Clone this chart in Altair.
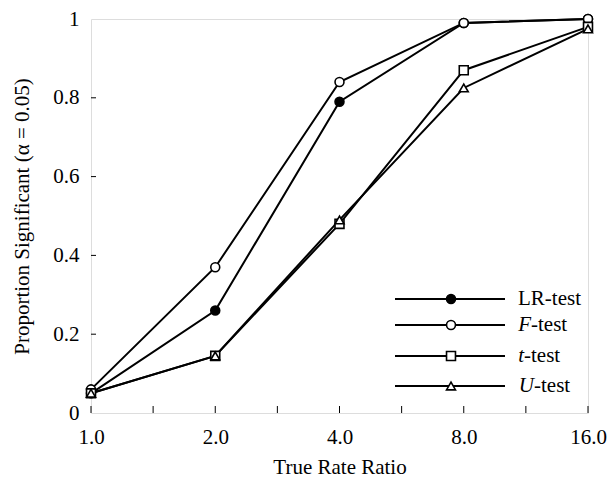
import altair as alt
import pandas as pd

# ---- data ----
ratios = [1, 2, 4, 8, 16]
lr_test = [0.05, 0.26, 0.79, 0.99, 1.0]
f_test = [0.06, 0.37, 0.84, 0.99, 1.0]
t_test = [0.05, 0.145, 0.48, 0.87, 0.98]
u_test = [0.05, 0.145, 0.49, 0.825, 0.975]
series = ["LR-test", "F-test", "t-test", "U-test"]
italic_part = ["", "F", "t", "U"]
normal_part = ["LR-test", "-test", "-test", "-test"]
x_tick_values = [1, 1.4142, 2, 2.8284, 4, 5.6569, 8, 11.3137, 16]
y_tick_values = [0.2, 0.4, 0.6, 0.8]

rows = []
for name, vals in zip(series, [lr_test, f_test, t_test, u_test]):
    for r, v in zip(ratios, vals):
        rows.append({"series": name, "ratio": r, "value": v})
df = pd.DataFrame(rows)

FONT = "'Liberation Serif', 'Times New Roman', 'DejaVu Serif', serif"
FS = 21
W, H = 497, 394

xscale = alt.Scale(type="log", base=2, domain=[1, 16], nice=False)
yscale = alt.Scale(domain=[0, 1], nice=False)

shape_scale = alt.Scale(domain=series, range=["circle", "circle", "square", "triangle-up"])
fill_scale = alt.Scale(domain=series, range=["black", "white", "white", "white"])

x_axis = alt.Axis(
    values=ratios, format=".1f", ticks=False, domain=False, grid=False,
    labelFlush=False, labelOverlap=False,
    labelFont=FONT, labelFontSize=FS, labelColor="black", labelPadding=13,
    title="True Rate Ratio", titleFont=FONT, titleFontSize=FS, titleFontWeight="normal",
    titleColor="black", titlePadding=9,
)
y_axis = alt.Axis(
    values=[0, 0.2, 0.4, 0.6, 0.8, 1], format="~g", ticks=False, domain=False, grid=False,
    labelFlush=False, labelOverlap=False,
    labelFont=FONT, labelFontSize=FS, labelColor="black", labelPadding=12,
    title="Proportion Significant (α = 0.05)", titleFont=FONT, titleFontSize=FS,
    titleFontWeight="normal", titleColor="black", titlePadding=20,
)

base = alt.Chart(df)

lines = base.mark_line(color="black", strokeWidth=2).encode(
    x=alt.X("ratio:Q", scale=xscale, axis=x_axis),
    y=alt.Y("value:Q", scale=yscale, axis=y_axis),
    detail="series:N",
)

points = base.mark_point(stroke="black", strokeWidth=1.6, opacity=1, fillOpacity=1, size=80).encode(
    x=alt.X("ratio:Q", scale=xscale),
    y=alt.Y("value:Q", scale=yscale),
    shape=alt.Shape("series:N", scale=shape_scale, legend=None),
    fill=alt.Fill("series:N", scale=fill_scale, legend=None),
)

# inward ticks
xt = alt.Chart(pd.DataFrame({"v": x_tick_values})).mark_rule(color="black", strokeWidth=1).encode(
    x=alt.X("v:Q", scale=xscale),
    y=alt.value(H),
    y2=alt.value(H - 7),
)
yt = alt.Chart(pd.DataFrame({"v": y_tick_values})).mark_rule(color="black", strokeWidth=1).encode(
    y=alt.Y("v:Q", scale=yscale),
    x=alt.value(0),
    x2=alt.value(5),
)

# legend (manual)
leg_rows_y = [280, 306, 337, 367]
leg_df = pd.DataFrame({
    "series": series,
    "italic": italic_part,
    "normal": normal_part,
    "ly": leg_rows_y,
    "split": [427, 440, 433, 443],
})
leg_base = alt.Chart(leg_df)
leg_lines = leg_base.mark_rule(color="black", strokeWidth=2).encode(
    x=alt.value(304), x2=alt.value(414), y=alt.Y("ly:Q", scale=None),
)
leg_pts = leg_base.mark_point(stroke="black", strokeWidth=1.6, opacity=1, fillOpacity=1, size=80).encode(
    x=alt.value(360), y=alt.Y("ly:Q", scale=None),
    shape=alt.Shape("series:N", scale=shape_scale, legend=None),
    fill=alt.Fill("series:N", scale=fill_scale, legend=None),
)
leg_ital = leg_base.mark_text(font=FONT, fontSize=FS, fontStyle="italic", align="right",
                              baseline="middle", color="black").encode(
    x=alt.X("split:Q", scale=None), y=alt.Y("ly:Q", scale=None), text="italic:N",
)
leg_norm = leg_base.mark_text(font=FONT, fontSize=FS, align="left",
                              baseline="middle", color="black").encode(
    x=alt.X("split:Q", scale=None), y=alt.Y("ly:Q", scale=None), text="normal:N",
)

chart = alt.layer(lines, points, xt, yt, leg_lines, leg_pts, leg_ital, leg_norm).properties(
    width=W, height=H,
    autosize=alt.AutoSizeParams(type="none"),
    padding={"left": 83, "top": 11, "right": 20, "bottom": 67},
).configure_view(stroke="black", strokeWidth=2).configure(background="white")

chart.save("out.html", embed_options={"renderer": "svg", "actions": False})
